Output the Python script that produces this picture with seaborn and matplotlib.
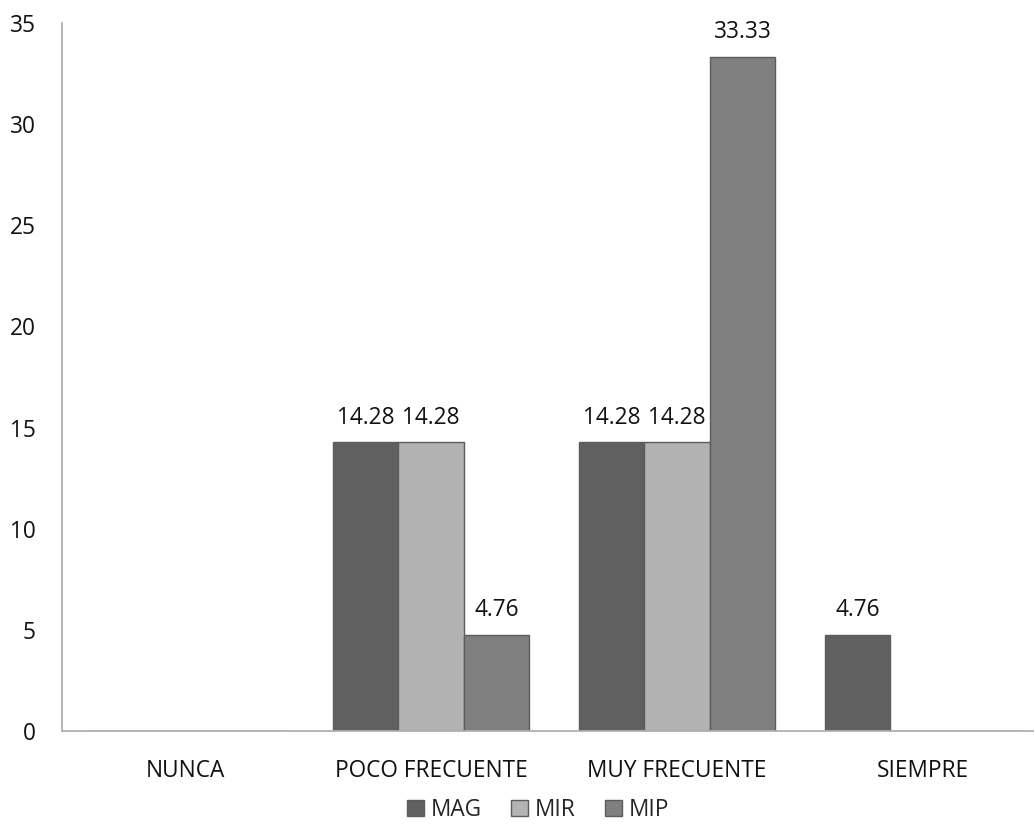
import matplotlib
matplotlib.use("Agg")
import matplotlib.pyplot as plt
import seaborn as sns
import pandas as pd

categories = ["NUNCA", "POCO FRECUENTE", "MUY FRECUENTE", "SIEMPRE"]
series = ["MAG", "MIR", "MIP"]
mag = [0, 14.28, 14.28, 4.76]
mir = [0, 14.28, 14.28, 0]
mip = [0, 4.76, 33.33, 0]
colors = ["#606060", "#b2b2b2", "#808080"]

rows = []
for name, vals in zip(series, [mag, mir, mip]):
    for cat, v in zip(categories, vals):
        rows.append({"categoria": cat, "serie": name, "valor": v})
df = pd.DataFrame(rows)

sns.set_style("white")
plt.rcParams["font.family"] = ["Open Sans", "DejaVu Sans"]

FS = 16.3
W, H = 1034, 831
fig = plt.figure(figsize=(W / 100, H / 100), dpi=100)
ax = fig.add_axes([62 / W, 1 - 731 / H, (1034 - 62) / W, (731 - 23) / H])

sns.barplot(data=df, x="categoria", y="valor", hue="serie", order=categories,
            hue_order=series, palette=colors, width=0.8, ax=ax,
            edgecolor="#5c5c5c", linewidth=1, saturation=1, legend=True)

for container in ax.containers:
    labels = [f"{v:.2f}" if v > 0 else "" for v in container.datavalues]
    ax.bar_label(container, labels=labels, padding=9, fontsize=FS, color="#111111")

ax.set_xlim(-0.5, -0.5 + (1034 - 62) / 246)
ax.set_ylim(0, 35)
ax.set_yticks(range(0, 36, 5))
ax.set_xlabel("")
ax.set_ylabel("")
ax.tick_params(axis="both", length=0, labelsize=FS, colors="#111111")
ax.tick_params(axis="y", pad=19)
ax.tick_params(axis="x", pad=20)

for s in ["top", "right"]:
    ax.spines[s].set_visible(False)
for s in ["left", "bottom"]:
    ax.spines[s].set_color("#b0b0b0")
    ax.spines[s].set_linewidth(1.3)

handles, labels = ax.get_legend_handles_labels()
ax.legend(handles, labels, loc="center", bbox_to_anchor=(0.5 - 10 / 972, (731 - 810) / 708),
          ncol=3, frameon=False, fontsize=FS, handlelength=0.75, handleheight=0.75,
          handletextpad=0.3, columnspacing=1.3)

fig.savefig("out.png", dpi=100)
